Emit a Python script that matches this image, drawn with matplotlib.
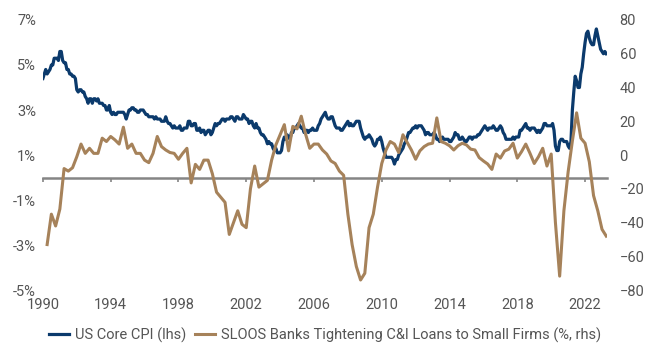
import matplotlib
matplotlib.use('Agg')
from matplotlib import pyplot as plt
import numpy as np

# US core CPI, y/y %, monthly from Jan 1990
cpi_start = 1990.0
cpi = [
    4.4, 4.6, 4.8, 4.6, 4.7, 4.8, 5.0, 5.0, 5.3, 5.3, 5.3, 5.2,
    5.6, 5.6, 5.2, 5.1, 5.1, 4.8, 4.8, 4.6, 4.6, 4.5, 4.5, 4.4,
    3.9, 3.8, 3.9, 3.9, 3.8, 3.8, 3.6, 3.5, 3.3, 3.5, 3.5, 3.3,
    3.5, 3.5, 3.4, 3.5, 3.3, 3.3, 3.3, 3.2, 3.2, 3.0, 3.0, 3.2,
    2.9, 2.8, 2.9, 2.8, 2.8, 2.9, 2.9, 2.9, 2.9, 2.9, 2.8, 2.6,
    2.8, 3.0, 3.0, 3.1, 3.1, 3.0, 3.0, 2.9, 2.9, 3.0, 3.0, 3.0,
    2.9, 2.8, 2.8, 2.7, 2.7, 2.7, 2.7, 2.6, 2.7, 2.6, 2.6, 2.6,
    2.5, 2.5, 2.5, 2.7, 2.5, 2.4, 2.4, 2.3, 2.2, 2.3, 2.2, 2.2,
    2.2, 2.3, 2.1, 2.1, 2.2, 2.2, 2.2, 2.5, 2.5, 2.3, 2.3, 2.4,
    2.4, 2.1, 2.1, 2.2, 2.0, 2.1, 2.1, 1.9, 2.0, 2.1, 2.1, 1.9,
    2.0, 2.2, 2.4, 2.3, 2.4, 2.4, 2.5, 2.6, 2.6, 2.5, 2.6, 2.6,
    2.6, 2.7, 2.7, 2.6, 2.5, 2.7, 2.7, 2.6, 2.6, 2.6, 2.8, 2.7,
    2.6, 2.6, 2.4, 2.5, 2.5, 2.3, 2.2, 2.4, 2.2, 2.2, 2.0, 1.9,
    1.9, 1.8, 1.7, 1.5, 1.6, 1.5, 1.5, 1.3, 1.2, 1.3, 1.1, 1.1,
    1.1, 1.2, 1.6, 1.8, 1.7, 1.9, 1.8, 1.7, 2.0, 2.0, 2.2, 2.2,
    2.3, 2.4, 2.3, 2.2, 2.2, 2.0, 2.1, 2.1, 2.0, 2.1, 2.1, 2.2,
    2.1, 2.1, 2.1, 2.3, 2.4, 2.6, 2.7, 2.8, 2.9, 2.7, 2.6, 2.6,
    2.7, 2.7, 2.5, 2.3, 2.2, 2.2, 2.2, 2.1, 2.1, 2.2, 2.3, 2.4,
    2.5, 2.3, 2.4, 2.3, 2.3, 2.4, 2.5, 2.5, 2.5, 2.2, 2.0, 1.8,
    1.7, 1.8, 1.8, 1.9, 1.8, 1.7, 1.5, 1.4, 1.5, 1.7, 1.7, 1.8,
    1.6, 1.3, 1.1, 0.9, 0.9, 0.9, 0.9, 0.9, 0.8, 0.6, 0.8, 0.8,
    1.0, 1.1, 1.2, 1.3, 1.5, 1.6, 1.8, 2.0, 2.0, 2.1, 2.2, 2.2,
    2.3, 2.2, 2.3, 2.3, 2.3, 2.2, 2.1, 1.9, 2.0, 2.0, 1.9, 1.9,
    1.9, 2.0, 1.9, 1.7, 1.7, 1.6, 1.7, 1.8, 1.7, 1.7, 1.7, 1.7,
    1.6, 1.6, 1.7, 1.8, 2.0, 1.9, 1.9, 1.7, 1.7, 1.8, 1.7, 1.6,
    1.6, 1.7, 1.8, 1.8, 1.7, 1.8, 1.8, 1.8, 1.9, 1.9, 2.0, 2.1,
    2.2, 2.3, 2.2, 2.1, 2.2, 2.2, 2.2, 2.3, 2.2, 2.1, 2.1, 2.2,
    2.3, 2.2, 2.0, 1.9, 1.7, 1.7, 1.7, 1.7, 1.7, 1.8, 1.7, 1.8,
    1.8, 1.8, 2.1, 2.1, 2.2, 2.3, 2.4, 2.2, 2.2, 2.1, 2.2, 2.2,
    2.2, 2.1, 2.0, 2.1, 2.0, 2.1, 2.2, 2.4, 2.4, 2.3, 2.3, 2.3,
    2.3, 2.4, 2.1, 1.4, 1.2, 1.2, 1.6, 1.7, 1.7, 1.6, 1.6, 1.6,
    1.4, 1.3, 1.6, 3.0, 3.8, 4.5, 4.3, 4.0, 4.0, 4.6, 4.9, 5.5,
    6.0, 6.4, 6.5, 6.2, 6.0, 5.9, 5.9, 6.3, 6.6, 6.3, 6.0, 5.7,
    5.6, 5.5, 5.6, 5.5,
]

# SLOOS small firms series as charted (%, rhs), quarterly from 1990Q2
sloos_start = 1990.25
sloos = [
    -53, -35, -42, -32, -8, -9.5, -7.5, -1, 6.5, 1,
    4, 1, 1, 10, 8, 11, 9, 6.5, 16.5, 4,
    6.5, 1, 1, -3, -4.5, 1, 11, 5, 3, 1.5,
    1, -2.5, 1, 4, -16.5, -5.5, -8.5, -3, -3, -11,
    -22, -25, -28, -47, -40, -33, -41, -43, -20, -6.5,
    -19, -17, -15, -3, 6, 12, 18, 2.5, 17, 15.5,
    23, 12.5, 4, 6.5, 6.5, 3, 0.6, -3.5, -5, -9.5,
    -12, -35, -53, -66, -74, -70, -43, -35, -19, -5,
    3, 8, 6.5, 1.5, 12, 7.5, 3, -2.5, 2.5, 5,
    6.5, 7, 22, 8, 7, 5.5, 3, 5.5, 7, 6,
    3.5, 3, -1.5, -3.5, -5.3, -8.5, 0.6, -1.8, 2.4, 3.5,
    7, -1.8, 2, 6.5, 1, -5, -1, 4, -6.5, 0.6,
    -40, -71.7, -33, -10, 8.3, 25, 10, 7, -4, -24,
    -33, -44, -48,
]

year_ticks = [1990, 1994, 1998, 2002, 2006, 2010, 2014, 2018, 2022]
lhs_ticks = [-5, -3, -1, 1, 3, 5, 7]
rhs_ticks = [-80, -60, -40, -20, 0, 20, 40, 60, 80]

navy = '#0b3a6c'
tan = '#a6825a'
grey_txt = '#555555'
grey_line = '#858585'

plt.rcParams['font.family'] = ['Roboto', 'DejaVu Sans']

cpi_x = cpi_start + np.arange(len(cpi)) / 12
sloos_x = sloos_start + np.arange(len(sloos)) / 4

fig = plt.figure(figsize=(6.5, 3.5), dpi=100)
ax = fig.add_axes([0.066, 0.171, 0.868, 0.772])
ax2 = ax.twinx()

l1, = ax.plot(cpi_x, cpi, color=navy, lw=2.3, solid_joinstyle='round')
l2, = ax2.plot(sloos_x, sloos, color=tan, lw=2.2, solid_joinstyle='round')

ax.set_xlim(1990, 2023.3)
ax.set_ylim(-5, 7)
ax2.set_ylim(-80, 80)

ax.set_yticks(lhs_ticks)
ax.set_yticklabels(['%d%%' % t for t in lhs_ticks])
ax2.set_yticks(rhs_ticks)
ax.set_xticks(year_ticks)

for s in ax.spines.values():
    s.set_visible(False)
for s in ax2.spines.values():
    s.set_visible(False)

ax.tick_params(axis='y', length=0, pad=5, labelsize=10.5, labelcolor=grey_txt)
ax2.tick_params(axis='y', length=0, pad=9, labelsize=10.5, labelcolor=grey_txt)
ax.tick_params(axis='x', length=0, pad=6, labelsize=10.5, labelcolor=grey_txt)

# zero line with small tick marks
zero = ax.secondary_xaxis(5 / 12)
zero.set_xticks(year_ticks)
zero.tick_params(axis='x', length=3, width=1.2, color=grey_line, labelbottom=False)
zero.spines['bottom'].set_color(grey_line)
zero.spines['bottom'].set_linewidth(1.8)

leg = fig.legend([l1, l2],
                 ['US Core CPI (lhs)', 'SLOOS Banks Tightening C&I Loans to Small Firms (%, rhs)'],
                 loc='center', bbox_to_anchor=(0.5, 0.043), ncol=2, frameon=False,
                 fontsize=10.5, handlelength=1.4, handletextpad=0.4, columnspacing=0.6,
                 labelcolor=grey_txt)

fig.savefig('out.png', dpi=100)
